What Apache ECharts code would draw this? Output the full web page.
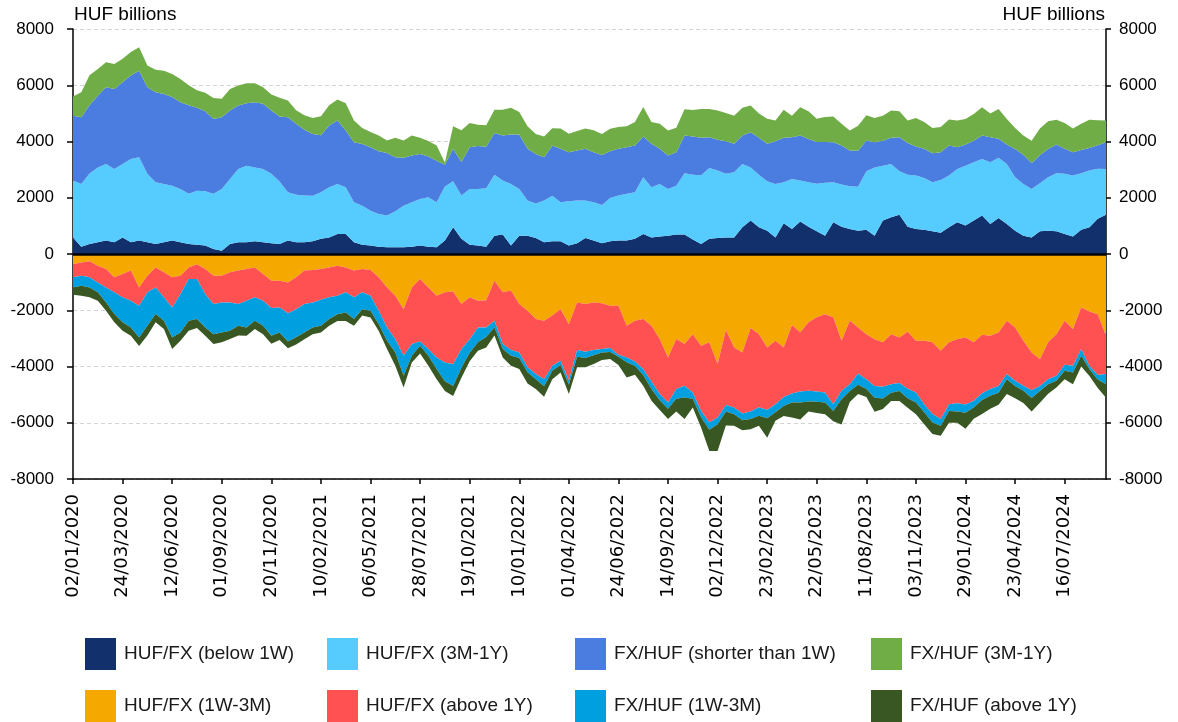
<!DOCTYPE html>
<html>
<head>
<meta charset="utf-8">
<title>Outstanding FX swap positions</title>
<script src="https://cdn.jsdelivr.net/npm/echarts/dist/echarts.min.js"></script>
<style>
  html, body { margin: 0; padding: 0; background: #ffffff; }
  #chart { width: 1178px; height: 722px; }
</style>
</head>
<body>
<div id="chart"></div>
<script>
// Date labels shown on the horizontal axis, one every six samples
const tickLabels = [
  '02/01/2020', '24/03/2020', '12/06/2020', '01/09/2020', '20/11/2020', '10/02/2021',
  '06/05/2021', '28/07/2021', '19/10/2021', '10/01/2022', '01/04/2022', '24/06/2022',
  '14/09/2022', '02/12/2022', '23/02/2023', '22/05/2023', '11/08/2023', '03/11/2023',
  '29/01/2024', '23/04/2024', '16/07/2024'
];
const samplesPerTick = 6;

// Series values, HUF billions (positive stack)
const hufFxBelow1W = [
  590, 260, 360, 420, 480, 420, 590, 420, 480, 420,
  360, 420, 480, 420, 360, 330, 300, 180, 120, 360,
  420, 420, 450, 420, 380, 360, 480, 420, 420, 450,
  540, 590, 710, 710, 420, 330, 300, 260, 240, 240,
  240, 260, 300, 260, 240, 480, 950, 540, 330, 300,
  260, 650, 690, 300, 650, 650, 570, 420, 450, 450,
  300, 380, 570, 480, 380, 450, 480, 480, 540, 710,
  590, 620, 650, 690, 690, 520, 360, 540, 570, 590,
  590, 950, 1190, 950, 830, 590, 1090, 890, 1160, 970,
  810, 650, 1130, 970, 890, 830, 860, 650, 1190, 1310,
  1400, 970, 890, 860, 810, 760, 950, 1130, 1010, 1190,
  1370, 1070, 1280, 1070, 830, 650, 590, 810, 830, 810,
  710, 620, 860, 950, 1250, 1400
];
const hufFx3M1Y = [
  2020, 2230, 2500, 2660, 2720, 2600, 2610, 2960, 2960, 2430,
  2190, 2070, 1950, 1890, 1780, 1920, 1930, 1960, 2190, 2310,
  2600, 2720, 2630, 2600, 2470, 2220, 1720, 1690, 1660, 1620,
  1660, 1780, 1780, 1660, 1420, 1390, 1240, 1160, 1130, 1280,
  1480, 1580, 1660, 1760, 1600, 1920, 1640, 1540, 1980, 2010,
  2080, 2170, 1920, 2190, 1660, 1250, 1230, 1480, 1620, 1390,
  1580, 1520, 1330, 1360, 1360, 1540, 1600, 1660, 1660, 2020,
  1780, 1870, 1660, 1740, 2180, 2300, 2440, 2520, 2400, 2260,
  2320, 2250, 1890, 1870, 1760, 1900, 1460, 1780, 1450, 1580,
  1690, 1880, 1420, 1500, 1520, 1560, 2080, 2430, 1950, 1890,
  1540, 1850, 1900, 1840, 1740, 1870, 1840, 1890, 2130, 2070,
  2010, 2190, 2140, 2130, 1900, 1840, 1720, 1710, 1900, 2060,
  2140, 2170, 2010, 2020, 1780, 1620
];
const fxHufShorter1W = [
  2310, 2370, 2430, 2550, 2730, 2850, 2910, 2970, 3080, 3080,
  3200, 3200, 3150, 3090, 3150, 2950, 2850, 2660, 2550, 2430,
  2260, 2220, 2320, 2320, 2250, 2310, 2660, 2520, 2340, 2200,
  2020, 2200, 2260, 2020, 2130, 2190, 2260, 2230, 2220, 1920,
  1700, 1660, 1600, 1450, 1480, 770, 1150, 1190, 1490, 1530,
  1470, 1480, 1600, 1760, 1940, 1840, 1760, 1540, 1780, 1900,
  1740, 1780, 1840, 1780, 1780, 1660, 1660, 1660, 1660, 1450,
  1550, 1250, 1190, 1190, 1340, 1360, 1330, 1090, 1090, 1160,
  1010, 1010, 1250, 1310, 1330, 1520, 1580, 1480, 1600, 1540,
  1480, 1450, 1420, 1390, 1270, 1280, 1100, 890, 890, 930,
  1210, 1130, 1030, 1040, 1030, 990, 1070, 780, 750, 770,
  830, 890, 680, 690, 1000, 1040, 920, 990, 1000, 1020,
  890, 830, 830, 800, 840, 950
];
const fxHuf3M1Y = [
  680, 890, 1070, 950, 890, 890, 830, 830, 830, 770,
  800, 830, 820, 820, 710, 620, 650, 750, 660, 770,
  710, 710, 670, 590, 570, 670, 600, 480, 510, 570,
  680, 720, 740, 970, 780, 570, 540, 560, 450, 690,
  620, 710, 570, 550, 540, 80, 800, 1130, 860, 760,
  770, 830, 920, 950, 800, 800, 710, 740, 620, 720,
  660, 690, 720, 780, 750, 800, 780, 740, 830, 1050,
  770, 890, 890, 870, 940, 940, 1030, 1010, 1040, 1000,
  1000, 990, 950, 870, 890, 740, 1000, 770, 1010, 990,
  830, 890, 920, 770, 710, 890, 890, 870, 890, 970,
  930, 800, 1020, 950, 900, 900, 920, 950, 910, 950,
  1010, 850, 1060, 910, 750, 680, 800, 950, 990, 880,
  920, 840, 930, 1000, 890, 780
];

// Series values, HUF billions (negative stack)
const hufFx1W3M = [
  -360, -300, -260, -420, -530, -830, -710, -590, -1190, -770,
  -480, -650, -830, -770, -480, -360, -530, -770, -770, -650,
  -590, -530, -480, -710, -950, -950, -1010, -830, -590, -570,
  -530, -480, -420, -480, -590, -530, -570, -830, -1190, -1480,
  -1960, -1190, -890, -1190, -1480, -1360, -1330, -1780, -1540, -1660,
  -1640, -950, -1360, -1300, -1780, -2015, -2310, -2370, -2190, -1960,
  -2500, -1720, -1780, -1720, -1755, -1840, -1840, -2550, -2370, -2310,
  -2550, -3025, -3680, -3025, -3200, -2850, -3260, -3140, -3910, -2700,
  -3320, -3500, -2630, -2850, -3320, -3080, -3320, -2520, -2790, -2430,
  -2250, -2140, -2250, -3080, -2370, -2610, -2850, -3030, -3140, -2850,
  -2970, -2760, -3080, -3080, -3140, -3440, -3140, -3030, -2970, -3140,
  -2870, -2910, -2790, -2370, -2610, -3080, -3500, -3740, -3140, -2850,
  -2370, -2670, -1900, -2040, -2140, -2910
];
const hufFxAbove1Y = [
  -470, -470, -570, -590, -660, -530, -830, -1070, -650, -590,
  -710, -890, -1070, -650, -410, -530, -890, -1010, -950, -1070,
  -1190, -1130, -1060, -950, -970, -950, -1100, -1130, -1190, -1150,
  -1100, -1060, -1060, -880, -950, -830, -910, -1190, -1420, -1540,
  -1660, -2010, -2220, -2190, -2200, -2500, -2590, -1600, -1490, -950,
  -970, -1420, -1840, -2115, -1720, -2015, -1960, -2080, -1780, -1835,
  -2000, -1695, -1695, -1695, -1625, -1505, -1740, -1130, -1450, -1780,
  -1980, -1955, -1600, -1775, -1485, -2070, -2315, -2850, -1900, -2670,
  -2140, -2170, -2970, -2600, -2230, -2260, -1760, -2440, -2100, -2430,
  -2640, -2780, -3090, -1780, -2260, -1640, -1600, -1660, -1580, -1780,
  -1620, -2030, -1840, -2260, -2550, -2430, -2200, -2280, -2380, -2080,
  -2080, -1890, -1900, -1900, -1900, -1600, -1340, -950, -1310, -1480,
  -1570, -1300, -1480, -1940, -2160, -1360
];
const fxHuf1W3M = [
  -360, -360, -360, -350, -530, -770, -890, -950, -1130, -1190,
  -940, -830, -1070, -1370, -1480, -1420, -1190, -1070, -1070, -1010,
  -770, -950, -830, -890, -990, -890, -1000, -1000, -1010, -890,
  -920, -770, -660, -720, -770, -600, -540, -480, -470, -480,
  -710, -420, -150, -240, -410, -660, -770, -660, -480, -530,
  -340, -230, -180, -205, -200, -170, -180, -250, -180, -155,
  -150, -235, -225, -185, -120, -135, -70, -170, -160, -210,
  -270, -220, -220, -350, -415, -230, -225, -260, -240, -230,
  -240, -240, -270, -300, -290, -290, -320, -320, -390, -380,
  -360, -360, -240, -300, -240, -400, -350, -420, -420, -300,
  -280, -340, -360, -290, -300, -240, -240, -290, -290, -240,
  -240, -240, -240, -180, -180, -180, -280, -180, -180, -180,
  -210, -240, -240, -120, -160, -360
];
const fxHufAbove1Y = [
  -260, -350, -350, -300, -300, -300, -300, -300, -300, -350,
  -300, -300, -410, -290, -360, -320, -300, -350, -350, -290,
  -350, -300, -300, -300, -280, -270, -240, -260, -240, -240,
  -240, -240, -240, -300, -240, -230, -240, -240, -300, -470,
  -420, -240, -280, -350, -360, -350, -360, -360, -300, -300,
  -370, -300, -300, -350, -390, -400, -350, -375, -300, -260,
  -330, -380, -330, -315, -270, -255, -300, -540, -310, -385,
  -420, -350, -370, -450, -770, -305, -370, -750, -950, -500,
  -410, -360, -360, -360, -690, -300, -360, -530, -600, -360,
  -400, -420, -370, -900, -390, -330, -280, -500, -370, -300,
  -360, -340, -420, -420, -410, -350, -420, -400, -570, -400,
  -500, -460, -430, -530, -440, -440, -480, -420, -340, -240,
  -300, -420, -380, -240, -300, -480
];

// Sample positions along the category axis
const categories = hufFxBelow1W.map((_, i) => String(i));

const seriesDefs = [
  { name: 'HUF/FX (below 1W)',          data: hufFxBelow1W,   stack: 'long',  color: '#12306B' },
  { name: 'HUF/FX (3M-1Y)',             data: hufFx3M1Y,      stack: 'long',  color: '#55CBFE' },
  { name: 'FX/HUF (shorter than 1W)',   data: fxHufShorter1W, stack: 'long',  color: '#4A7DDF' },
  { name: 'FX/HUF (3M-1Y)',             data: fxHuf3M1Y,      stack: 'long',  color: '#70AD47' },
  { name: 'HUF/FX (1W-3M)',             data: hufFx1W3M,      stack: 'short', color: '#F5A800' },
  { name: 'HUF/FX (above 1Y)',          data: hufFxAbove1Y,   stack: 'short', color: '#FF5052' },
  { name: 'FX/HUF (1W-3M)',             data: fxHuf1W3M,      stack: 'short', color: '#00A0E0' },
  { name: 'FX/HUF (above 1Y)',          data: fxHufAbove1Y,   stack: 'short', color: '#385723' }
];

const legendSlots = [
  [85, 638], [327, 638], [575, 638], [871, 638],
  [85, 690], [327, 690], [575, 690], [871, 690]
];

const labelFont = 'Liberation Sans';

const series = seriesDefs.map((s, i) => {
  const item = {
    name: s.name,
    type: 'line',
    stack: s.stack,
    data: s.data,
    symbol: 'none',
    showSymbol: false,
    smooth: false,
    color: s.color,
    itemStyle: { color: s.color },
    lineStyle: { width: 0, color: s.color },
    areaStyle: { color: s.color, opacity: 1 },
    emphasis: { disabled: true },
    silent: true
  };
  if (i === seriesDefs.length - 1) {
    // bold zero line
    item.markLine = {
      silent: true,
      symbol: 'none',
      label: { show: false },
      animation: false,
      lineStyle: { color: '#000000', width: 2.5, type: 'solid' },
      data: [{ yAxis: 0 }]
    };
  }
  return item;
});

const legends = seriesDefs.map((s, i) => ({
  data: [s.name],
  left: legendSlots[i][0],
  top: legendSlots[i][1],
  orient: 'horizontal',
  icon: 'rect',
  itemWidth: 31,
  itemHeight: 32,
  padding: 0,
  selectedMode: false,
  textStyle: {
    fontFamily: labelFont,
    fontSize: 19,
    color: '#1a1a1a',
    padding: [0, 0, 0, 3]
  }
}));

const valueAxisBase = {
  type: 'value',
  min: -8000,
  max: 8000,
  interval: 2000,
  axisLine: { show: true, onZero: false, lineStyle: { color: '#000000', width: 1.5 } },
  axisTick: { show: true, inside: false, length: 6, lineStyle: { color: '#000000', width: 1.5 } },
  axisLabel: {
    fontFamily: labelFont,
    fontSize: 17,
    color: '#000000',
    formatter: (v) => String(v)
  }
};

const chart = echarts.init(document.getElementById('chart'), null, { renderer: 'canvas' });
chart.setOption({
  animation: false,
  backgroundColor: '#ffffff',
  grid: { left: 73, right: 72, top: 29, bottom: 243, containLabel: false },
  legend: legends,
  graphic: [
    { type: 'text', left: 74, top: 5,
      style: { text: 'HUF billions', font: '19px "Liberation Sans"', fill: '#000000' } },
    { type: 'text', right: 73, top: 5,
      style: { text: 'HUF billions', font: '19px "Liberation Sans"', fill: '#000000' } }
  ],
  xAxis: {
    type: 'category',
    data: categories,
    boundaryGap: false,
    axisLine: { show: true, onZero: false, lineStyle: { color: '#000000', width: 1.5 } },
    axisTick: { show: true, interval: samplesPerTick - 1, length: 5, lineStyle: { color: '#000000', width: 1.5 } },
    axisLabel: {
      interval: samplesPerTick - 1,
      rotate: 90,
      margin: 15,
      fontFamily: 'DejaVu Sans',
      fontSize: 18,
      color: '#000000',
      formatter: (value, index) => (index % samplesPerTick === 0 ? (tickLabels[index / samplesPerTick] || '') : '')
    },
    splitLine: { show: false }
  },
  yAxis: [
    Object.assign({}, valueAxisBase, {
      position: 'left',
      axisLabel: Object.assign({}, valueAxisBase.axisLabel, { margin: 19 }),
      splitLine: { show: true, lineStyle: { color: '#d4d4d4', width: 1, type: [4, 3] } }
    }),
    Object.assign({}, valueAxisBase, {
      position: 'right',
      axisTick: Object.assign({}, valueAxisBase.axisTick, { length: 5 }),
      axisLabel: Object.assign({}, valueAxisBase.axisLabel, { margin: 13 }),
      splitLine: { show: false }
    })
  ],
  series: series
});
</script>
</body>
</html>
